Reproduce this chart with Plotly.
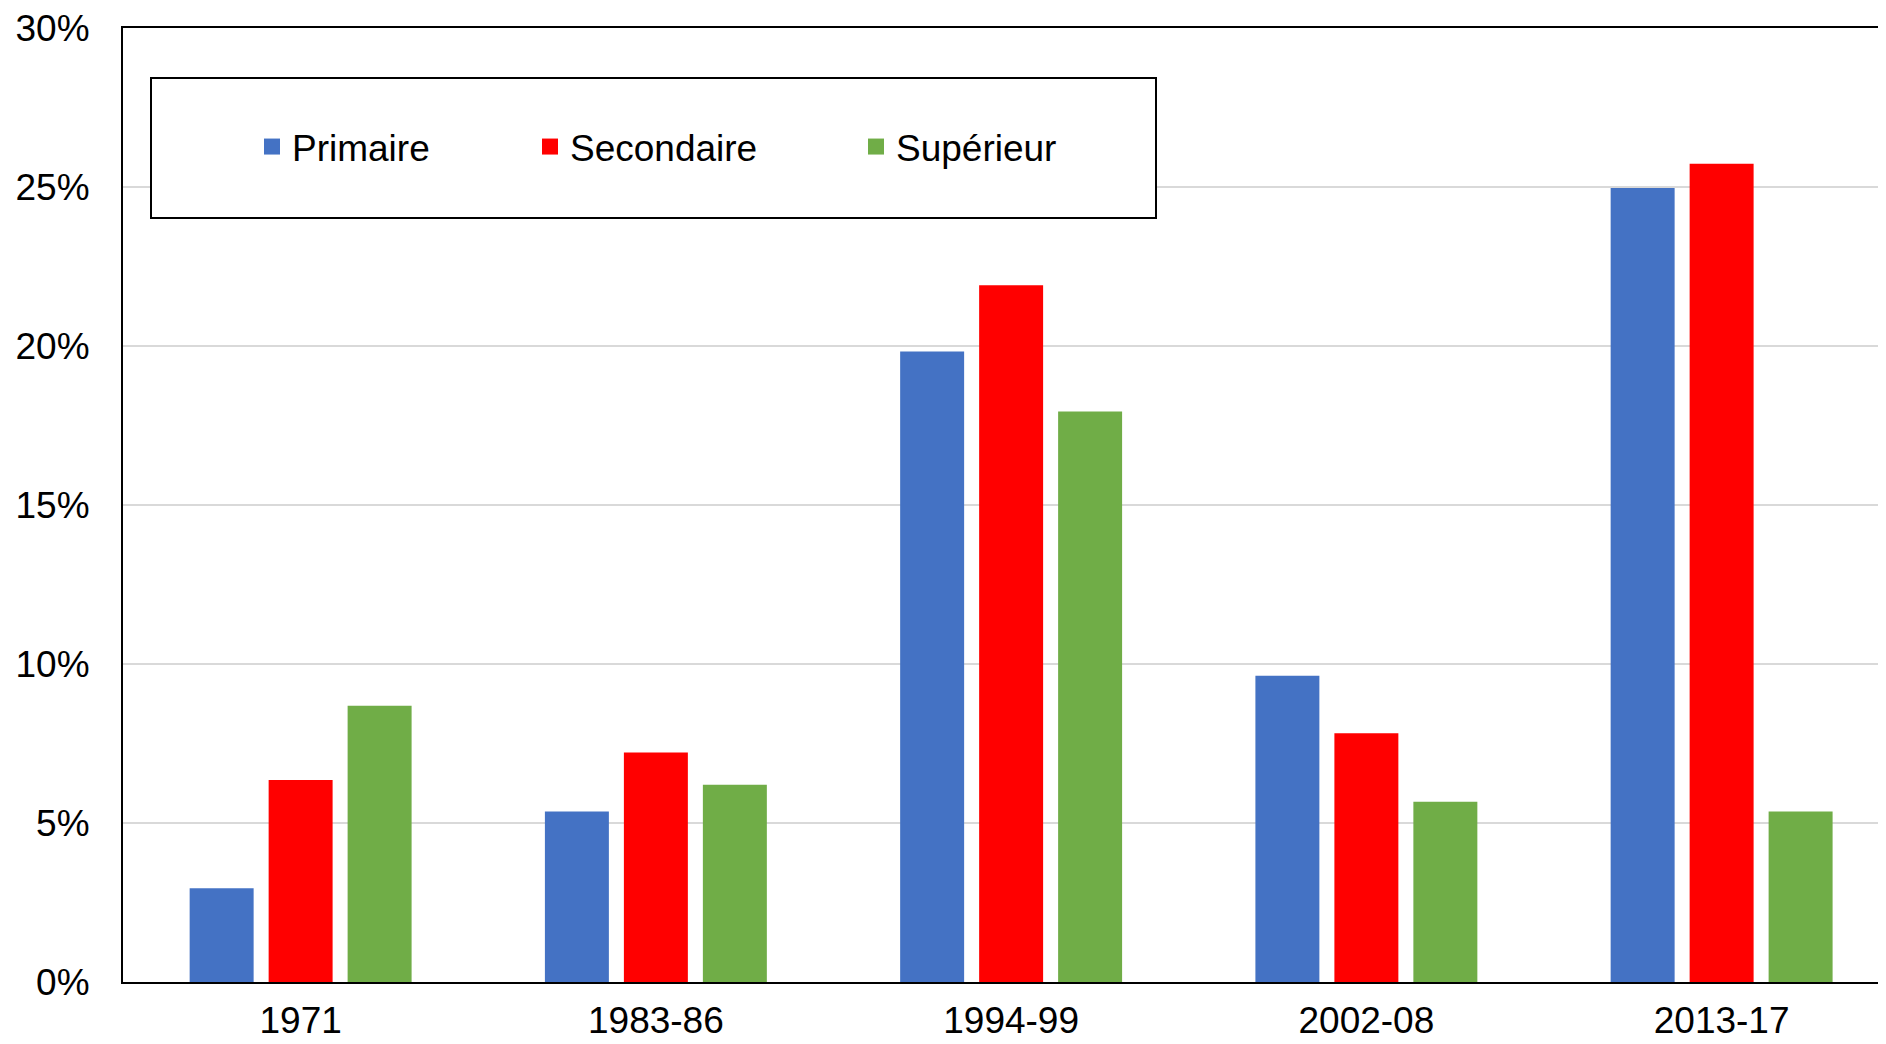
import plotly.graph_objects as go

categories = ["1971", "1983-86", "1994-99", "2002-08", "2013-17"]
primaire = [2.95, 5.36, 19.83, 9.63, 24.97]
secondaire = [6.35, 7.22, 21.91, 7.82, 25.73]
superieur = [8.69, 6.2, 17.94, 5.67, 5.36]
series_names = ["Primaire", "Secondaire", "Supérieur"]
colors = ["#4472C4", "#FF0000", "#70AD47"]
y_tickvals = [0, 5, 10, 15, 20, 25, 30]
y_ticktext = ["0%", "5%", "10%", "15%", "20%", "25%", "30%"]

# page has an 8px body margin: figure sized so the page is exactly 1886x1044
OFF = 8
W, H = 1886 - 2 * OFF, 1044 - 2 * OFF
L, R, T = 123 - OFF, 0, 28 - OFF
B = H - (982 - OFF)
plot_w = W - L - R
plot_h = H - T - B
cat_px = 355.25

def px_x(p):
    return (p - OFF - L) / plot_w

def px_y(p):
    return (H - B - (p - OFF)) / plot_h

FONT = "Liberation Sans, Arial, sans-serif"
FS = 37

fig = go.Figure()
for name, vals, col in zip(series_names, [primaire, secondaire, superieur], colors):
    fig.add_trace(go.Bar(x=categories, y=vals, name=name, marker=dict(color=col, line=dict(width=0)),
                         showlegend=False))

legend_lefts = [252, 530, 856]
legend_keys = ["legend", "legend2", "legend3"]
for name, col, key in zip(series_names, colors, legend_keys):
    fig.add_trace(go.Scatter(x=[None], y=[None], mode="markers", name=name,
                             marker=dict(symbol="square", size=20, color=col),
                             legend=key, showlegend=True))

layout_legends = {}
for key, left in zip(legend_keys, legend_lefts):
    layout_legends[key] = dict(
        x=px_x(left), y=px_y(147), xanchor="left", yanchor="middle",
        bgcolor="rgba(0,0,0,0)", borderwidth=0,
        font=dict(family=FONT, size=FS, color="black"),
        itemsizing="trace",
    )

fig.update_layout(
    width=W, height=H,
    margin=dict(l=L, r=R, t=T, b=B, pad=0, autoexpand=False),
    paper_bgcolor="white", plot_bgcolor="white",
    font=dict(family=FONT, size=FS, color="black"),
    barmode="group", bargap=0.333, bargroupgap=0.19,
    **layout_legends,
)

fig.update_xaxes(
    type="category", range=[-0.5, -0.5 + plot_w / cat_px],
    showline=True, linecolor="black", linewidth=2, mirror=True,
    showgrid=False, ticks="", ticklabelstandoff=5, automargin=False,
    ticklabeloverflow="allow",
    tickfont=dict(family=FONT, size=FS, color="black"),
)
fig.update_yaxes(
    range=[0, 30], tickvals=y_tickvals, ticktext=y_ticktext,
    showline=True, linecolor="black", linewidth=2,
    showgrid=True, gridcolor="#D9D9D9", gridwidth=2,
    zeroline=False, ticks="", ticklabelstandoff=24, automargin=False,
    ticklabeloverflow="allow",
    tickfont=dict(family=FONT, size=FS, color="black"),
)

fig.add_shape(type="rect", xref="paper", yref="paper",
              x0=px_x(151), x1=px_x(1156), y0=px_y(218), y1=px_y(78),
              line=dict(color="black", width=2), fillcolor="white", layer="above")

fig.write_html("out.html")
